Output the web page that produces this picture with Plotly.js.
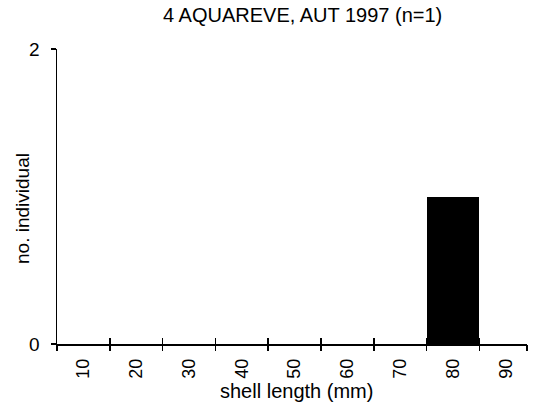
<!DOCTYPE html>
<html><head><meta charset="utf-8">
<script src="https://cdn.plot.ly/plotly-3.0.1.min.js"></script>
<style>html,body{margin:0;padding:0;background:#fff}</style>
</head><body><div id="chart" style="width:539px;height:408px"></div>
<script>
const categories = ["10","20","30","40","50","60","70","80","90"];
const counts = [0,0,0,0,0,0,0,1,0];
const yTicks = [0,2];

const font = {family: "Liberation Sans, Arial, sans-serif", color: "#000"};
const f = s => Object.assign({}, font, {size: s});
const xEnd = categories.length - 0.6;
const xRange = [-0.5, xEnd];
const boundaries = categories.slice(0, -1).map((c, i) => i - 0.5).concat([categories.length - 1.5, xEnd]);

const tickAxis = (side) => ({
  overlaying: "x", anchor: "y2",
  range: xRange,
  tickvals: boundaries,
  ticks: side, ticklen: 6, tickwidth: 1.5, tickcolor: "#000",
  showticklabels: false, showline: false, showgrid: false, zeroline: false
});

Plotly.newPlot("chart", [{
  type: "bar",
  x: categories,
  y: counts,
  marker: {color: "#000", line: {width: 0}},
  hoverinfo: "none"
}, {
  type: "scatter", mode: "markers",
  x: [], y: [], xaxis: "x2", yaxis: "y2", hoverinfo: "none"
}, {
  type: "scatter", mode: "markers",
  x: [], y: [], xaxis: "x3", yaxis: "y2", hoverinfo: "none"
}], {
  width: 539, height: 408,
  margin: {l: 57, r: 12, t: 49, b: 64},
  paper_bgcolor: "#fff", plot_bgcolor: "rgba(0,0,0,0)",
  showlegend: false,
  bargap: 0,
  xaxis: {
    type: "category",
    categoryarray: categories,
    range: xRange,
    ticks: "",
    ticklabelstandoff: 6,
    showline: true, linecolor: "#000", linewidth: 1.5,
    showgrid: false, zeroline: false,
    tickangle: -90,
    tickfont: f(18)
  },
  yaxis: {
    range: [0, 2],
    tickvals: yTicks,
    ticktext: yTicks.map(String),
    ticks: "outside", ticklen: 5, tickwidth: 1.5, tickcolor: "#000",
    ticklabelstandoff: 7,
    showline: true, linecolor: "#000", linewidth: 1.5,
    showgrid: false, zeroline: false,
    tickfont: f(19)
  },
  xaxis2: tickAxis("inside"),
  xaxis3: tickAxis("outside"),
  yaxis2: {
    overlaying: "y", anchor: "x2",
    range: [0, 2],
    tickvals: yTicks,
    ticks: "inside", ticklen: 5, tickwidth: 1.5, tickcolor: "#000",
    showticklabels: false, showline: false, showgrid: false, zeroline: false
  },
  annotations: [
    {text: "4 AQUAREVE, AUT 1997 (n=1)", xref: "paper", yref: "paper", x: 0.522, y: 1.115,
     xanchor: "center", yanchor: "middle", showarrow: false, font: f(20)},
    {text: "shell length (mm)", xref: "paper", yref: "paper", x: 0.509, y: -0.16,
     xanchor: "center", yanchor: "middle", showarrow: false, font: f(20)},
    {text: "no. individual", xref: "paper", yref: "paper", x: -0.073, y: 0.46,
     xanchor: "center", yanchor: "middle", showarrow: false, textangle: -90, font: f(19)}
  ]
}, {staticPlot: true});
</script></body></html>
